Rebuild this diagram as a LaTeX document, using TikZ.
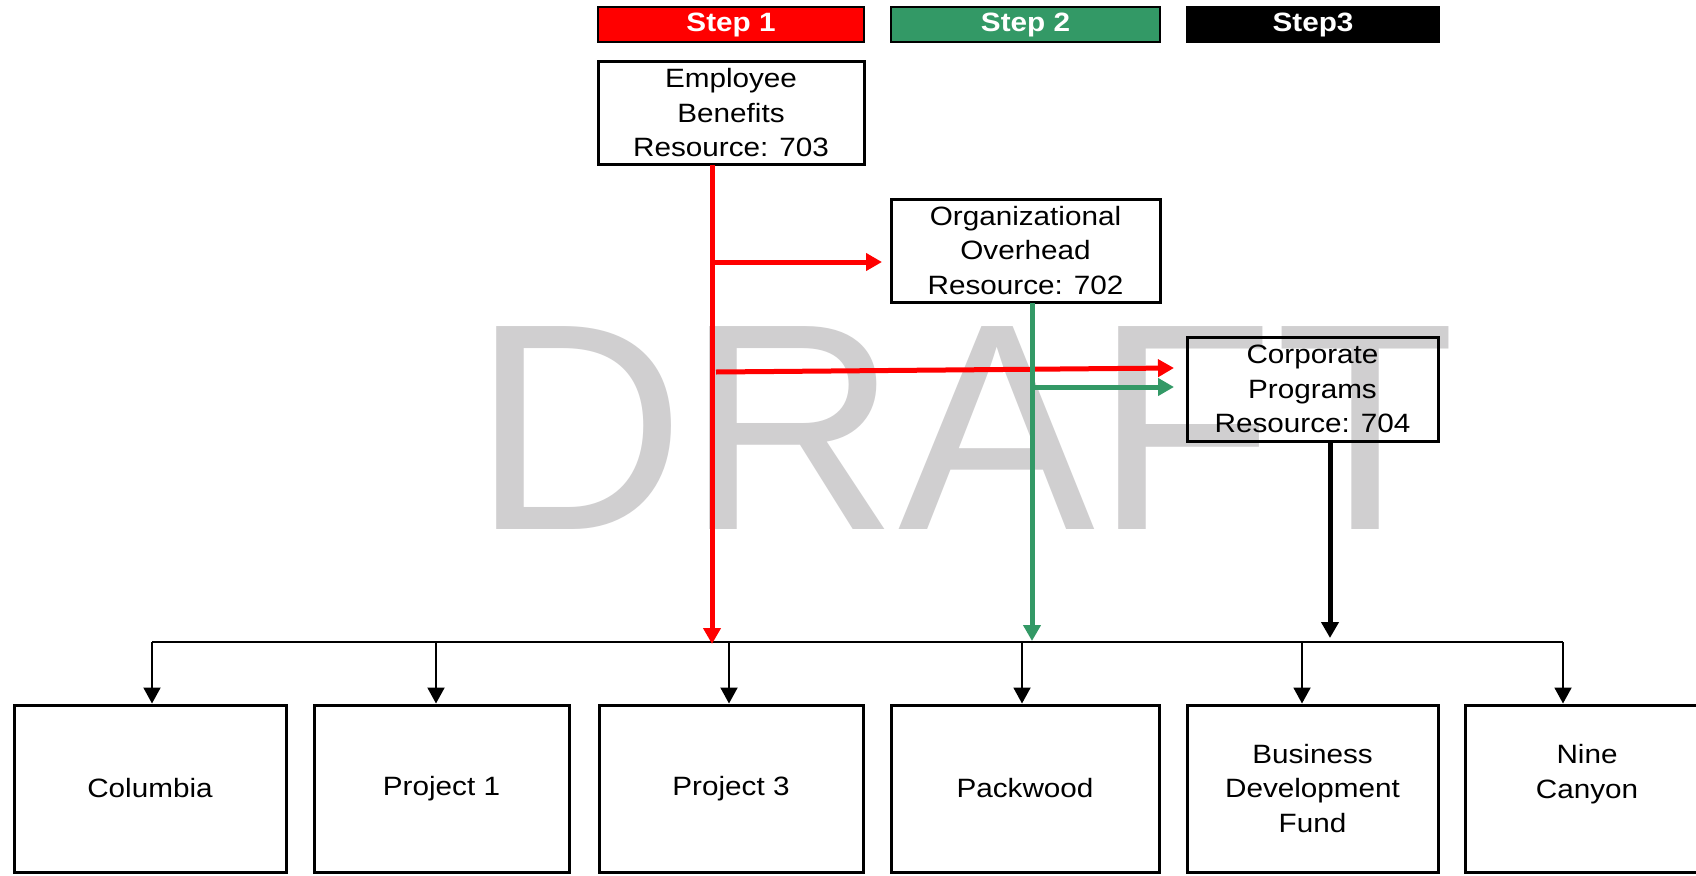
\documentclass[tikz,border=0pt]{standalone}
\usepackage{fontspec}
\setmainfont{Liberation Sans}
\newfontfamily\boxfont[FakeStretch=1.12]{Liberation Sans}
\newfontfamily\draftfont{Liberation Sans}
\usetikzlibrary{arrows.meta,calc}
\definecolor{stepred}{RGB}{255,0,0}
\definecolor{stepgreen}{RGB}{51,153,102}
\definecolor{draftgray}{RGB}{208,207,208}
\begin{document}
\begin{tikzpicture}[x=1pt,y=-1pt,
  box/.style={draw=black, line width=3pt, inner sep=0pt, align=center,
    font=\boxfont\fontsize{26.5}{34.5}\selectfont},
  stepbar/.style={draw=black, line width=2pt, text=white, inner sep=0pt,
    minimum height=35pt, font=\boxfont\bfseries\fontsize{26.5}{30}\selectfont},
  flow/.style={line width=5pt, -{Triangle[length=16pt,width=17pt]}},
  drop/.style={line width=2pt, -{Triangle[length=16pt,width=17pt]}},
  bus/.style={line width=2pt}
]
\useasboundingbox (0,0) rectangle (1696,875);
\fill[white] (0,0) rectangle (1696,875);
% watermark
\node[font=\draftfont\fontsize{295}{300}\selectfont, text=draftgray,
  anchor=base west, inner sep=0pt] (draft) at (472,529) {DRAFT};

% step bars
\node[stepbar, fill=stepred, minimum width=266pt] (s1) at (731,25) {Step 1};
\node[stepbar, fill=stepgreen, minimum width=269pt] (s2) at (1025.5,25) {Step 2};
\node[stepbar, fill=black, minimum width=252pt] (s3) at (1313,25) {Step3};

% resource boxes
\node[box, minimum width=266pt, minimum height=102pt] (emp) at (731,113)
  {Employee\\Benefits\\Resource: 703};
\node[box, minimum width=269pt, minimum height=103pt] (org) at (1025.5,250.5)
  {Organizational\\Overhead\\Resource: 702};
\node[box, minimum width=251pt, minimum height=104pt] (cp) at (1312.5,389)
  {Corporate\\Programs\\Resource: 704};

% bottom boxes
\node[box, minimum width=272pt, minimum height=167pt] (col) at (150,788.5) {Columbia};
\node[box, minimum width=255pt, minimum height=167pt] (p1) at (441.5,788.5) {Project 1};
\node[box, minimum width=264pt, minimum height=167pt] (p3) at (731,788.5) {Project 3};
\node[box, minimum width=268pt, minimum height=167pt] (pw) at (1025,788.5) {Packwood};
\node[box, minimum width=251pt, minimum height=167pt] (bdf) at (1312.5,788.5) {Business\\Development\\Fund};
\node[box, minimum width=244pt, minimum height=167pt] (nine) at (1587,788.5) {Nine\\Canyon\\\mbox{}};

% coordinates on the flows
\coordinate (rtop) at (712,165);
\coordinate (rj1) at (712,262);
\coordinate (rj2) at (716,372);
\coordinate (rend) at (712,644);
\coordinate (gtop) at (1032,303);
\coordinate (gj) at (1032,387);
\coordinate (gend) at (1032,641);
\coordinate (ktop) at (1330,442);
\coordinate (kend) at (1330,638);
\coordinate (t1) at (882,262);
\coordinate (t2) at (1174,368);
\coordinate (t3) at (1174,387);

% bus and drops
\coordinate (b1) at (152,642);
\coordinate (b2) at (436,642);
\coordinate (b3) at (729,642);
\coordinate (b4) at (1022,642);
\coordinate (b5) at (1302,642);
\coordinate (b6) at (1563,642);
\draw[bus] (b1) -- (b6);
\draw[drop] (b1) -- (b1 |- col.north);
\draw[drop] (b2) -- (b2 |- p1.north);
\draw[drop] (b3) -- (b3 |- p3.north);
\draw[drop] (b4) -- (b4 |- pw.north);
\draw[drop] (b5) -- (b5 |- bdf.north);
\draw[drop] (b6) -- (b6 |- nine.north);

% step 1 (red)
\draw[flow, stepred] (rtop) -- (rend);
\draw[flow, stepred] (rj1) -- (t1);
\draw[flow, stepred] (rj2) -- (t2);
% step 2 (green)
\draw[flow, stepgreen] (gtop) -- (gend);
\draw[flow, stepgreen] (gj) -- (t3);
% step 3 (black)
\draw[flow, black] (ktop) -- (kend);
\end{tikzpicture}
\end{document}
